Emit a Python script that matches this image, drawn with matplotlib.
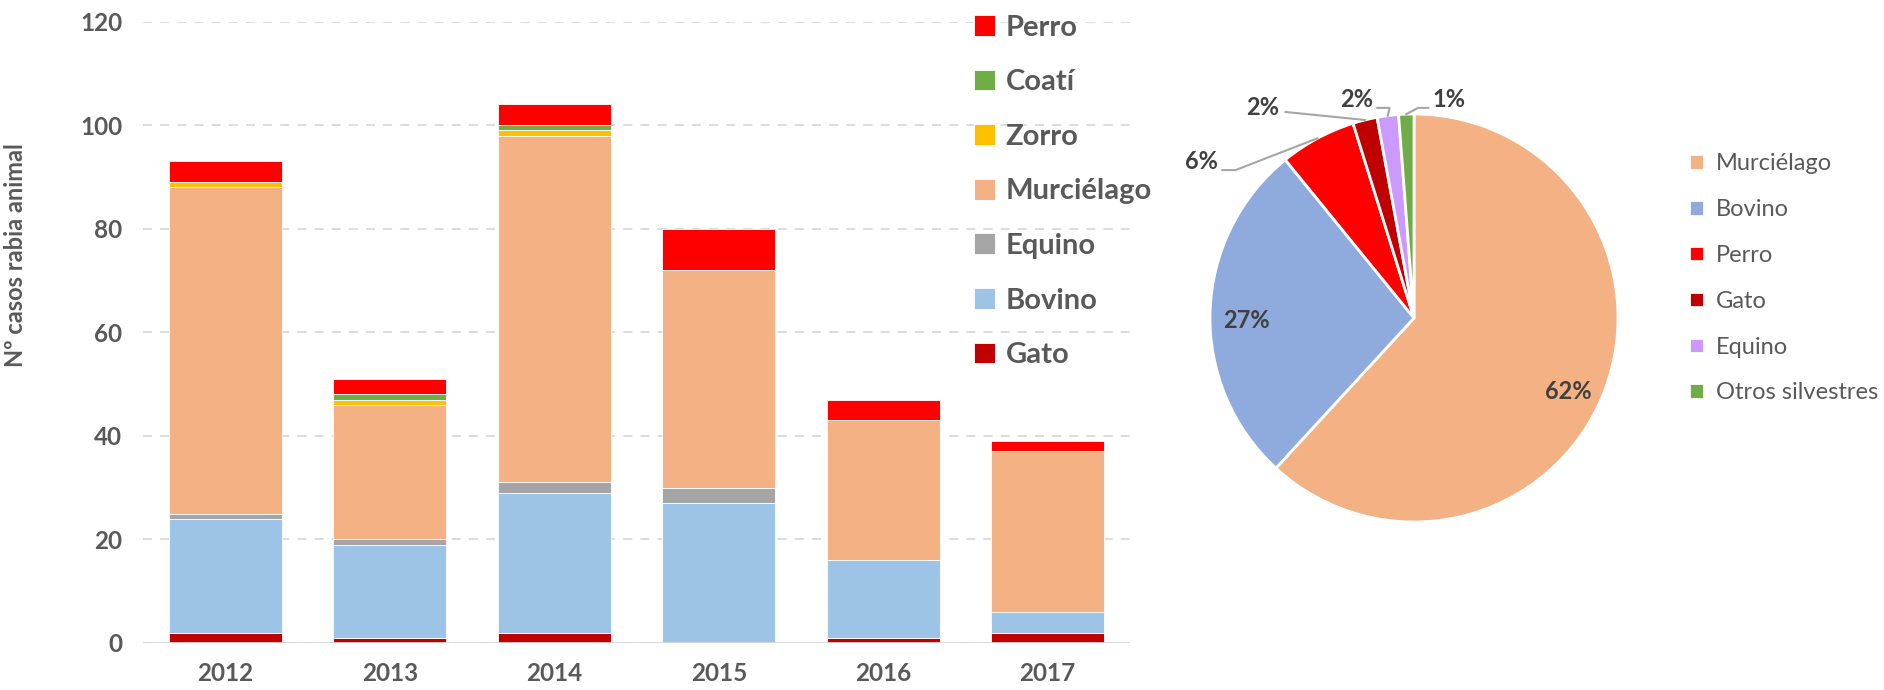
import numpy as np
import matplotlib
matplotlib.use("Agg")
import matplotlib.pyplot as plt

plt.rcParams['font.family'] = ['Lato', 'DejaVu Sans']

# stacked bars: cases per year
years = ["2012", "2013", "2014", "2015", "2016", "2017"]
gato = [2, 1, 2, 0, 1, 2]
bovino = [22, 18, 27, 27, 15, 4]
equino = [1, 1, 2, 3, 0, 0]
murcielago = [63, 26, 67, 42, 27, 31]
zorro = [1, 1, 1, 0, 0, 0]
coati = [0, 1, 1, 0, 0, 0]
perro = [4, 3, 4, 8, 4, 2]

# pie: totals by species
pie_labels = ["Murciélago", "Bovino", "Perro", "Gato", "Equino", "Otros silvestres"]
pie_values = [256, 113, 25, 8, 7, 5]

grey = "#595959"
dark = "#404040"

fig = plt.figure(figsize=(18.84, 6.9), dpi=100)

# ---------- bar chart ----------
ax = fig.add_axes([143 / 1884, 47 / 690, 987 / 1884, 621.4 / 690])
series = [("Gato", gato, "#C00000"),
          ("Bovino", bovino, "#9DC3E6"),
          ("Equino", equino, "#A5A5A5"),
          ("Murciélago", murcielago, "#F4B183"),
          ("Zorro", zorro, "#FFC000"),
          ("Coatí", coati, "#70AD47"),
          ("Perro", perro, "#FF0000")]
x = np.arange(len(years))
bottom = np.zeros(len(years))
handles = []
for name, vals, col in series:
    b = ax.bar(x, vals, 0.684, bottom=bottom, color=col, label=name,
               edgecolor="white", linewidth=0.6, zorder=3)
    bottom += np.array(vals)
    handles.append(b)

ax.set_xlim(-0.5, len(years) - 0.5)
ax.set_ylim(0, 120)
ax.set_yticks(range(0, 121, 20))
ax.set_xticks(x)
ax.set_xticklabels(years)
for s in ax.spines.values():
    s.set_visible(False)
ax.yaxis.grid(True, color="#D9D9D9", linestyle=(0, (5, 4.5)), linewidth=1.3, zorder=0)
ax.axhline(0, color="#D9D9D9", linewidth=2, zorder=4)
ax.tick_params(axis="both", length=0, labelsize=17.5, labelcolor=grey)
ax.tick_params(axis="y", pad=15)
ax.tick_params(axis="x", pad=14)
for lab in ax.get_xticklabels() + ax.get_yticklabels():
    lab.set_fontweight("bold")
ax.set_ylabel("Nº casos rabia animal", fontsize=17, fontweight="bold", color=grey)
ax.yaxis.set_label_coords(-0.118, 0.625)

leg = ax.legend(handles[::-1], [s[0] for s in series][::-1],
                loc="upper left", bbox_to_anchor=(962 / 1884, 1 - 3 / 690),
                bbox_transform=fig.transFigure, frameon=False,
                prop={"size": 21, "weight": "bold"}, labelcolor=grey,
                handlelength=0.72, handleheight=0.72, handletextpad=0.38,
                labelspacing=0.98, borderaxespad=0)

# ---------- pie chart ----------
side = 600
cx, cy = 1414, 318
ax2 = fig.add_axes([(cx - side / 2) / 1884, (690 - cy - side / 2) / 690,
                    side / 1884, side / 690])
pie_colors = ["#F4B183", "#8FAADC", "#FF0000", "#C00000", "#CC99FF", "#70AD47"]
wedges, _ = ax2.pie(pie_values, colors=pie_colors, startangle=90, counterclock=False,
                    radius=1, wedgeprops={"edgecolor": "white", "linewidth": 2})
lim = side / 2 / 204
ax2.set_xlim(-lim, lim)
ax2.set_ylim(-lim, lim)
ax2.set_aspect("equal")
ax2.axis("off")

total = sum(pie_values)
pcts = [f"{v / total * 100:.0f}%" for v in pie_values]
# label positions (pie units): inside for big slices, outside with leaders for small
inside = {0: (0.755, -0.36), 1: (-0.82, -0.01)}
outside = {2: ((-1.04, 0.765), (-0.94, 0.725), (-0.875, 0.725)),
           3: ((-0.74, 1.03), (-0.63, 1.01), (-0.63, 1.01)),
           4: ((-0.28, 1.07), (-0.18, 1.03), (-0.12, 1.03)),
           5: ((0.17, 1.07), (0.07, 1.03), (0.02, 1.03))}
for i, w in enumerate(wedges):
    if i in inside:
        ax2.text(*inside[i], pcts[i], ha="center", va="center", fontsize=17,
                 fontweight="bold", color=dark)
    else:
        (tx, ty), p1, p2 = outside[i]
        ang = np.deg2rad((w.theta1 + w.theta2) / 2)
        edge = (np.cos(ang), np.sin(ang))
        ax2.plot([p1[0], p2[0], edge[0]], [p1[1], p2[1], edge[1]],
                 color="#A6A6A6", linewidth=1.5, clip_on=False)
        ax2.text(tx, ty, pcts[i], ha="center", va="center", fontsize=17,
                 fontweight="bold", color=dark)

ax2.legend(wedges, pie_labels, loc="upper left",
           bbox_to_anchor=(1680 / 1884, 1 - 144 / 690),
           bbox_transform=fig.transFigure, frameon=False,
           prop={"size": 17}, labelcolor=grey,
           handlelength=0.62, handleheight=0.62, handletextpad=0.5,
           labelspacing=1.05, borderaxespad=0)

fig.savefig("out.png", dpi=100)
